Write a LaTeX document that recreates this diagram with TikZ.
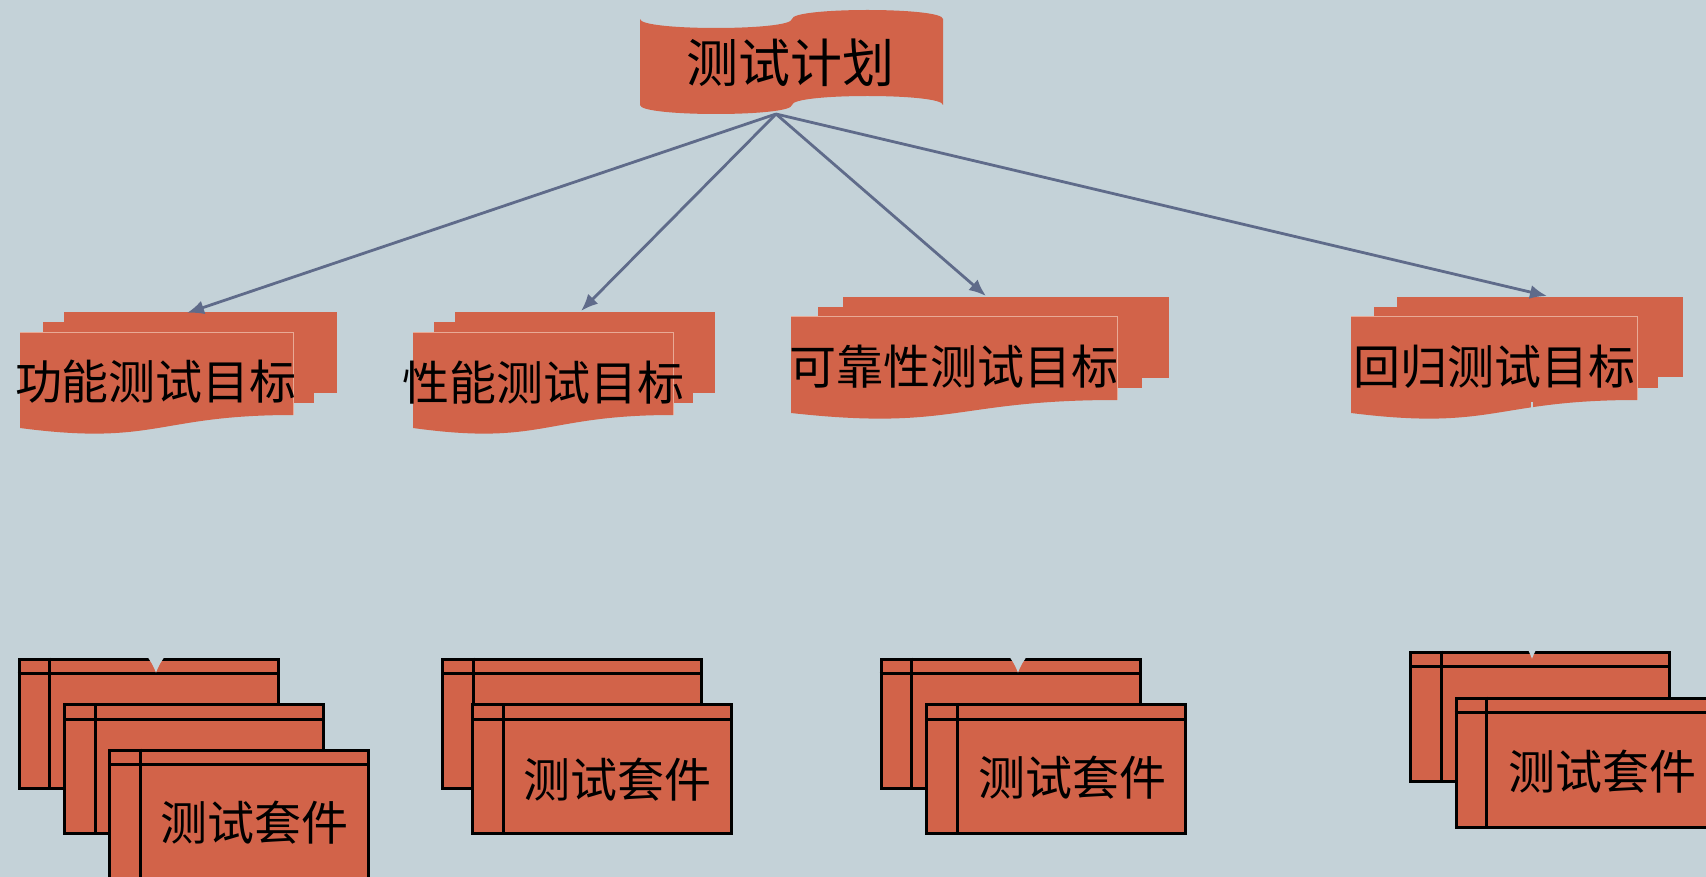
\documentclass[tikz,border=0pt]{standalone}
\usepackage{fontspec}
\newfontfamily\cjk{Noto Sans CJK SC}
\usetikzlibrary{arrows.meta}
\definecolor{bg}{RGB}{196,210,216}
\definecolor{doc}{RGB}{210,99,73}
\definecolor{arr}{RGB}{95,107,138}
\definecolor{docedge}{RGB}{232,170,150}
\newcommand\suitelines[1]{%
  \draw[suiteline] ([yshift=-16pt]#1.north west) -- ([yshift=-16pt]#1.north east);
  \draw[suiteline] ([xshift=32pt]#1.north west) -- ([xshift=32pt]#1.south west);}
\begin{document}
\begin{tikzpicture}[x=1pt,y=-1pt,
  docshape/.style={fill=doc},
  frontedge/.style={draw=docedge, line width=1pt},
  suite/.style={draw=black, line width=3pt, fill=doc, rectangle, minimum width=259pt, minimum height=129pt, inner sep=0pt},
  suiteline/.style={draw=black, line width=3pt},
  titletext/.style={font={\cjk\fontsize{52}{56}\selectfont}, inner sep=0pt},
  goaltext/.style={font={\cjk\fontsize{47}{50}\selectfont}, inner sep=0pt},
  link/.style={draw=arr, line width=2.8pt, -{Latex[length=17pt,width=14pt]}},
  hiddenlink/.style={draw=bg, line width=2pt, -{Latex[length=15pt,width=16pt]}}]

\fill[bg] (0,0) rectangle (1706,877);
\useasboundingbox (0,0) rectangle (1706,877);

% top punched-tape document
\fill[docshape] (640,19) .. controls (640,31) and (792,31) .. (792,19)
  .. controls (792,7) and (943,7) .. (943,19) -- (943,105)
  .. controls (943,93) and (792,93) .. (792,105)
  .. controls (792,117) and (640,117) .. (640,105) -- cycle;
\node[titletext] (plan) at (790,63) {测试计划};
\coordinate (planout) at (776,114);

% goal 1
\fill[docshape] (64,312) rectangle (337,393);
\fill[docshape] (43,322) rectangle (314,403);
\fill[docshape] (20,333) -- (293,333) -- (293,415) .. controls (156.5,415) and (156.5,446) .. (20,428) -- cycle;
\draw[frontedge] (20,333) -- (293,333) -- (293,415);
\node[goaltext] (g1) at (156,382) {功能测试目标};
% goal 2
\fill[docshape] (455,312) rectangle (715,393);
\fill[docshape] (434,322) rectangle (693,403);
\fill[docshape] (413,333) -- (673,333) -- (673,415) .. controls (543,415) and (543,446) .. (413,428) -- cycle;
\draw[frontedge] (413,333) -- (673,333) -- (673,415);
\node[goaltext] (g2) at (543,383) {性能测试目标};
% goal 3
\fill[docshape] (843,297) rectangle (1169,378);
\fill[docshape] (818,307) rectangle (1142,388);
\fill[docshape] (791,317) -- (1117,317) -- (1117,400) .. controls (954,400) and (954,431) .. (791,413) -- cycle;
\draw[frontedge] (791,317) -- (1117,317) -- (1117,400);
\node[goaltext] (g3) at (954,367) {可靠性测试目标};
% goal 4
\fill[docshape] (1397,297) rectangle (1683,377);
\fill[docshape] (1374,307) rectangle (1658,388);
\fill[docshape] (1351,317) -- (1637,317) -- (1637,400) .. controls (1494,400) and (1494,431) .. (1351,413) -- cycle;
\draw[frontedge] (1351,317) -- (1637,317) -- (1637,400);
\node[goaltext] (g4) at (1494,367) {回归测试目标};

\coordinate (g1in) at (187,313);
\coordinate (g2in) at (581,311);
\coordinate (g3in) at (986,296);
\coordinate (g4in) at (1547,296);
\draw[link] (planout) -- (g1in);
\draw[link] (planout) -- (g2in);
\draw[link] (planout) -- (g3in);
\draw[link] (planout) -- (g4in);

% test suites group 1
\node[suite] (s1a) at (148.5,723.5) {}; \suitelines{s1a}
\node[suite] (s1b) at (194,769) {}; \suitelines{s1b}
\node[suite] (s1c) at (239,814.5) {}; \suitelines{s1c}
\node[goaltext] (t1) at (254,823) {测试套件};
% group 2
\node[suite] (s2a) at (572,723.5) {}; \suitelines{s2a}
\node[suite] (s2b) at (602,769) {}; \suitelines{s2b}
\node[goaltext] (t2) at (617,780) {测试套件};
% group 3
\node[suite] (s3a) at (1010.5,723.5) {}; \suitelines{s3a}
\node[suite] (s3b) at (1056,769) {}; \suitelines{s3b}
\node[goaltext] (t3) at (1072,778) {测试套件};
% group 4
\node[suite] (s4a) at (1540,716.5) {}; \suitelines{s4a}
\node[suite] (s4b) at (1585.5,762.5) {}; \suitelines{s4b}
\node[goaltext] (t4) at (1602,772) {测试套件};

% background-coloured connectors from goals to suites
\coordinate (g1out) at (156,429);
\coordinate (g3out) at (1018,407);
\coordinate (g4out) at (1532,402);
\coordinate (s1in) at (156,673);
\coordinate (s3in) at (1018,673);
\coordinate (s4in) at (1532,659);
\draw[hiddenlink] (g1out) -- (s1in);
\draw[hiddenlink] (g3out) -- (s3in);
\draw[hiddenlink] (g4out) -- (s4in);
\end{tikzpicture}
\end{document}
